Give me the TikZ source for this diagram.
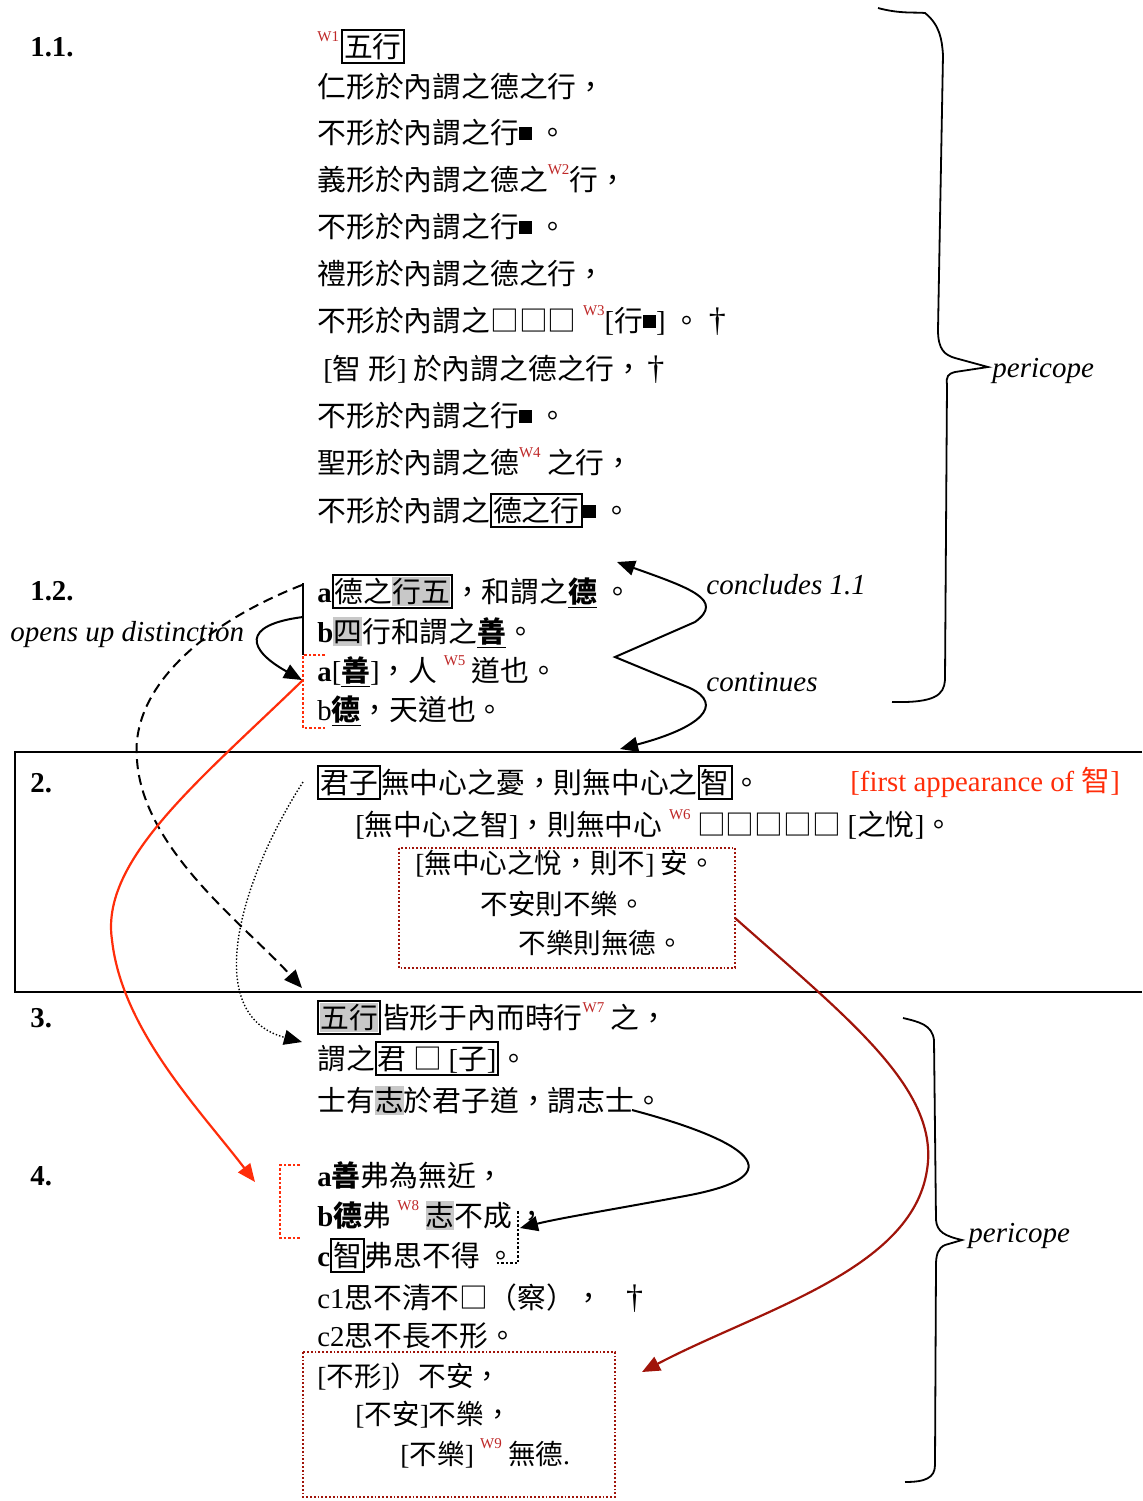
\documentclass[tikz,border=0pt]{standalone}
\usepackage{fontspec}
\setmainfont{Liberation Serif}
\newfontfamily\cjk{Noto Sans CJK TC}
\usetikzlibrary{arrows.meta}
\definecolor{wred}{RGB}{190,40,40}
\definecolor{ored}{RGB}{255,45,10}
\definecolor{dred}{RGB}{160,20,10}
\definecolor{hlgray}{RGB}{200,200,200}
\setlength\fboxsep{0.5pt}
\setlength\fboxrule{1pt}
\newcommand\cst{\rule[-0.14em]{0pt}{1.02em}}
\newcommand\bx[1]{\fbox{\cst#1}}
\newcommand\hl[1]{{\setlength\fboxsep{0pt}\colorbox{hlgray}{\cst#1}}}
\newcommand\rmx[1]{{\rmfamily #1}}
\newcommand\dg{{\rmfamily\fontsize{17}{17}\selectfont †}}
\newcommand\blk{\raisebox{0.1em}{\rule{0.45em}{0.45em}}}
\newcommand\wsup[1]{\raisebox{0.55em}{\rmfamily\fontsize{7.5}{8}\selectfont\color{wred}#1}}
\newcommand\ul[1]{\underline{\textbf{#1}}}
\begin{document}
\begin{tikzpicture}[x=0.5pt,y=-0.5pt,
  tx/.style={inner sep=0pt,anchor=base west,font=\fontsize{14.4}{17}\selectfont\cjk},
  tb/.style={inner sep=0pt,anchor=base west,font=\fontsize{13.8}{17}\selectfont\cjk},
  lab/.style={inner sep=0pt,anchor=base west,font=\fontsize{14.4}{17}\selectfont\bfseries},
  note/.style={inner sep=0pt,anchor=base west,font=\fontsize{14.5}{17}\selectfont\itshape},
  arr/.style={line width=1pt,-{Triangle[length=9pt,width=7.5pt]}},
  brace/.style={line width=0.9pt},
  rdot/.style={ored,line width=1.3pt,densely dotted},
  ddot/.style={dred,line width=0.9pt,densely dotted},
]
\useasboundingbox (0,0) rectangle (1142,1501);

% section labels
\node[lab] (s11) at (30,56) {1.1.};
\node[lab] (s12) at (30,600) {1.2.};
\node[lab] (s2) at (30,792) {2.};
\node[lab] (s3) at (30,1027) {3.};
\node[lab] (s4) at (30,1185) {4.};

% section 1.1
\node[tx] (t0) at (317,57) {\wsup{W1}\hspace{1pt}\bx{五行}};
\node[tx] (t1) at (317,97) {仁形於內謂之德之行，};
\node[tx] (t2) at (317,143) {不形於內謂之行\blk\ 。};
\node[tx] (t3) at (317,190) {義形於內謂之德之\wsup{W2}行，};
\node[tx] (t4) at (317,237) {不形於內謂之行\blk\ 。};
\node[tx] (t5) at (317,284) {禮形於內謂之德之行，};
\node[tx] (t6) at (317,331) {不形於內謂之□□□ \wsup{W3}\rmx{[}行\blk\rmx{]} 。\hspace{4pt}\dg};
\node[tx] (t7) at (323,379) {\rmx{[}智 形\rmx{]} 於內謂之德之行，\hspace{2pt}\dg};
\node[tx] (t8) at (317,426) {不形於內謂之行\blk\ 。};
\node[tx] (t9) at (317,473) {聖形於內謂之德\wsup{W4} 之行，};
\node[tx] (t10) at (317,521) {不形於內謂之\bx{德之行}\blk\ 。};

% section 1.2
\node[tx] (u1) at (317,602) {\rmx{\textbf{a}}\bx{德之\hl{行五}}，和謂之\ul{德} 。};
\node[tx] (u2) at (317,642) {\rmx{\textbf{b}}\hl{四}行和謂之\ul{善}。};
\node[tx] (u3) at (317,681) {\rmx{\textbf{a}[}\ul{善}\rmx{]}，人 \wsup{W5} 道也。};
\node[tx] (u4) at (317,720) {\rmx{b}\ul{德}，天道也。};

\node[note] (n1) at (10,641) {opens up distinction};
\node[note] (n2) at (706,594) {concludes 1.1};
\node[note] (n3) at (706,691) {continues};

% section 2
\draw[line width=1pt] (1142,752) -- (15,752) -- (15,992) -- (1142,992);
\node[tx] (v1) at (317,793) {\bx{君子}無中心之憂，則無中心之\bx{智}。};
\node[tx,text=ored] (v0) at (850,791) {\rmx{[first appearance of }智\rmx{]}};
\node[tx] (v2) at (355,835) {\rmx{[}無中心之智\rmx{]}，則無中心 \wsup{W6} □□□□□ \rmx{[}之悅\rmx{]}。};
\node[tb] (v3) at (415,873) {\rmx{[}無中心之悅，則不\rmx{]} 安。};
\node[tb] (v4) at (480,914) {不安則不樂。};
\node[tb] (v5) at (518,953) {不樂則無德。};
\draw[ddot] (399,848) rectangle (735,968);

% section 3
\node[tx] (w1) at (317,1028) {\bx{\hl{五行}}皆形于內而時行\wsup{W7} 之，};
\node[tx] (w2) at (317,1069) {謂之\bx{君 □ \rmx{[}子\rmx{]}}。};
\node[tx] (w3) at (317,1111) {士有\hl{志}於君子道，謂志士。};

% section 4
\node[tx] (x1) at (317,1186) {\textbf{\rmx{a}善}弗為無近，};
\node[tx] (x2) at (317,1226) {\textbf{\rmx{b}德}弗 \wsup{W8} \hl{志}不成\hspace{3pt}，};
\node[tx] (x3) at (317,1266) {\rmx{\textbf{c}}\bx{智}弗思不得 。};
\node[tx] (x4) at (317,1308) {\rmx{c1}思不清不□（察）， \hspace{8pt}\dg};
\node[tx] (x5) at (317,1346) {\rmx{c2}思不長不形。};
\node[tb] (x6) at (317,1386) {\rmx{[}不形\rmx{]}）不安，};
\node[tb] (x7) at (355,1424) {\rmx{[}不安\rmx{]}不樂，};
\node[tb] (x8) at (400,1464) {\rmx{[}不樂\rmx{]} \wsup{W9} 無德\rmx{.}};
\draw[ddot] (303,1352) rectangle (615,1497);

% braces
\draw[brace] (878,8) .. controls (900,14) and (915,12) .. (925,13) .. controls (940,25) and (942,40) .. (943,55) -- (938,330) .. controls (938,350) and (945,355) .. (955,358) -- (988,367) -- (955,372) .. controls (948,374) and (946,376) .. (947,385) -- (945,680) .. controls (944,695) and (935,703) .. (892,702);
\node[note] (p1) at (992,377) {pericope};
\draw[brace] (903,1018) .. controls (920,1022) and (932,1025) .. (934,1040) -- (936,1220) .. controls (937,1232) and (945,1236) .. (962,1240) -- (945,1245) .. controls (938,1248) and (936,1255) .. (936,1265) -- (935,1465) .. controls (935,1478) and (925,1482) .. (905,1482);
\node[note] (p2) at (968,1242) {pericope};

% marks
\coordinate (vl1) at (303,583);
\coordinate (vl2) at (303,655);
\draw[line width=0.9pt] (vl1) -- (vl2);
\draw[rdot] (325,655) -- (vl2) -- (303,728) -- (325,728);
\draw[rdot] (300,1165) -- (280,1165) -- (280,1238) -- (300,1238);

% connectors
\coordinate (zt) at (617,562);
\coordinate (zb) at (620,749);
\draw[line width=1pt,{Triangle[length=9pt,width=7.5pt]}-{Triangle[length=9pt,width=7.5pt]}] (zt) .. controls (690,588) and (725,600) .. (695,622) -- (615,657) -- (690,688) .. controls (725,705) and (700,728) .. (zb);

\coordinate (o1) at (303,617);
\coordinate (o2) at (302,680);
\draw[arr] (o1) .. controls (240,625) and (248,650) .. (o2);

\coordinate (d1) at (302,585);
\coordinate (d2) at (302,988);
\draw[arr,dash pattern=on 5pt off 3pt] (d1) .. controls (200,625) and (130,690) .. (137,760) .. controls (143,850) and (245,925) .. (d2);

\coordinate (r1) at (303,680);
\coordinate (r2) at (255,1182);
\draw[arr,ored,line width=1.1pt] (r1) .. controls (200,780) and (100,860) .. (112,940) .. controls (122,1030) and (200,1110) .. (r2);

\coordinate (q0) at (303,782);
\coordinate (q9) at (302,1042);
\draw[arr,line width=0.7pt,densely dotted] (q0) .. controls (240,880) and (200,1015) .. (q9);

\coordinate (k1) at (735,918);
\coordinate (k2) at (642,1372);
\draw[arr,dred,line width=1.1pt] (k1) .. controls (850,1020) and (940,1090) .. (927,1170) .. controls (912,1270) and (760,1310) .. (k2);

\coordinate (m1) at (632,1110);
\coordinate (m2) at (520,1228);
\draw[arr] (m1) .. controls (745,1140) and (800,1175) .. (685,1196) .. controls (610,1210) and (560,1218) .. (m2);

\coordinate (b1) at (497,1263);
\coordinate (b2) at (518,1263);
\coordinate (b3) at (518,1210);
\draw[line width=1.2pt,densely dotted] (b1) -- (b2) -- (b3);
\end{tikzpicture}
\end{document}
